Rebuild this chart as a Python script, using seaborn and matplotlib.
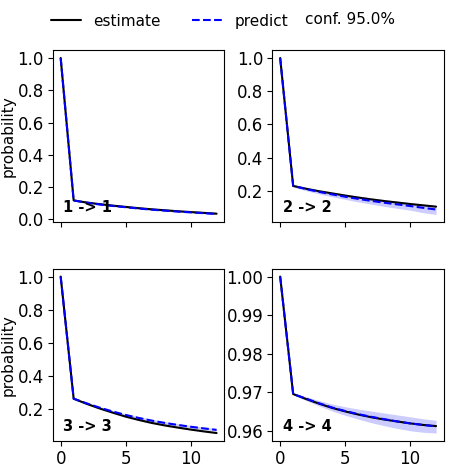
import matplotlib
matplotlib.use("Agg")
import matplotlib.pyplot as plt
import seaborn as sns
from matplotlib.lines import Line2D
from matplotlib.ticker import MultipleLocator

# DATA
lags = list(range(13))
titles = ["1 -> 1", "2 -> 2", "3 -> 3", "4 -> 4"]

est_11 = [1.0, 0.117, 0.104, 0.094, 0.085, 0.077, 0.069, 0.062, 0.056, 0.050, 0.045, 0.040, 0.035]
pred_11 = [1.0, 0.117, 0.103, 0.092, 0.083, 0.075, 0.067, 0.060, 0.054, 0.048, 0.043, 0.038, 0.033]
lo_11 = [1.0, 0.113, 0.099, 0.088, 0.079, 0.071, 0.063, 0.056, 0.050, 0.045, 0.040, 0.035, 0.030]
hi_11 = [1.0, 0.121, 0.107, 0.096, 0.087, 0.079, 0.071, 0.064, 0.058, 0.052, 0.046, 0.041, 0.036]

est_22 = [1.0, 0.229, 0.212, 0.197, 0.184, 0.171, 0.159, 0.148, 0.138, 0.129, 0.120, 0.112, 0.104]
pred_22 = [1.0, 0.229, 0.210, 0.193, 0.178, 0.164, 0.151, 0.139, 0.128, 0.118, 0.108, 0.097, 0.087]
lo_22 = [1.0, 0.222, 0.200, 0.181, 0.164, 0.148, 0.133, 0.119, 0.106, 0.094, 0.083, 0.068, 0.057]
hi_22 = [1.0, 0.234, 0.218, 0.204, 0.191, 0.179, 0.168, 0.157, 0.147, 0.138, 0.129, 0.120, 0.112]

est_33 = [1.0, 0.264, 0.233, 0.205, 0.180, 0.156, 0.136, 0.118, 0.103, 0.090, 0.078, 0.067, 0.057]
pred_33 = [1.0, 0.264, 0.236, 0.210, 0.187, 0.166, 0.148, 0.132, 0.118, 0.106, 0.095, 0.085, 0.076]
lo_33 = [1.0, 0.261, 0.231, 0.204, 0.180, 0.159, 0.140, 0.124, 0.110, 0.098, 0.087, 0.077, 0.068]
hi_33 = [1.0, 0.267, 0.241, 0.216, 0.194, 0.173, 0.156, 0.140, 0.126, 0.114, 0.103, 0.093, 0.084]

est_44 = [1.0, 0.9696, 0.9683, 0.9671, 0.9660, 0.9651, 0.9643, 0.9636, 0.9630, 0.9625, 0.9620, 0.9616, 0.9613]
pred_44 = [1.0, 0.9696, 0.9684, 0.9672, 0.9661, 0.9652, 0.9644, 0.9637, 0.9631, 0.9625, 0.9620, 0.9616, 0.9612]
lo_44 = [1.0, 0.9694, 0.9679, 0.9665, 0.9652, 0.9641, 0.9631, 0.9622, 0.9614, 0.9607, 0.9601, 0.9597, 0.9595]
hi_44 = [1.0, 0.9698, 0.9689, 0.9679, 0.9670, 0.9663, 0.9657, 0.9652, 0.9647, 0.9642, 0.9637, 0.9632, 0.9628]

panels = [
    (est_11, pred_11, lo_11, hi_11),
    (est_22, pred_22, lo_22, hi_22),
    (est_33, pred_33, lo_33, hi_33),
    (est_44, pred_44, lo_44, hi_44),
]
ystep = [0.2, 0.2, 0.2, 0.01]

# STYLE
sns.set_style("ticks")
plt.rcParams["font.family"] = ["DejaVu Sans"]
plt.rcParams["axes.edgecolor"] = "black"
plt.rcParams["xtick.color"] = "black"
plt.rcParams["ytick.color"] = "black"
plt.rcParams["text.color"] = "black"
plt.rcParams["axes.labelcolor"] = "black"

fig, axes = plt.subplots(2, 2, figsize=(4.52, 4.69), dpi=100, sharex=True)
fig.subplots_adjust(left=0.117, right=0.982, top=0.893, bottom=0.060,
                    wspace=0.28, hspace=0.27)

for i, ax in enumerate(axes.flat):
    est, pred, lo, hi = panels[i]
    ax.fill_between(lags, lo, hi, color="blue", alpha=0.2, linewidth=0)
    sns.lineplot(x=lags, y=est, ax=ax, color="black", linewidth=1.5)
    sns.lineplot(x=lags, y=pred, ax=ax, color="blue", linewidth=1.5, linestyle="--")
    ax.text(0.06, 0.04, titles[i], transform=ax.transAxes, fontsize=10.5,
            fontweight="bold", ha="left", va="bottom")
    ax.tick_params(labelsize=12, pad=3)
    ax.set_xticks([0, 5, 10])
    ax.yaxis.set_major_locator(MultipleLocator(ystep[i]))
    if i % 2 == 0:
        ax.set_ylabel("probability", fontsize=11, labelpad=1)

# LEGEND
handles = [
    Line2D([], [], color="black", linewidth=1.5),
    Line2D([], [], color="blue", linewidth=1.5, linestyle="--"),
]
fig.legend(handles, ["estimate", "predict"], loc="upper center", ncol=2,
           bbox_to_anchor=(0.375, 1.0), frameon=False, fontsize=11)
fig.text(305 / 452, 1 - 19 / 469, "conf. 95.0%", fontsize=11, ha="left", va="center")

fig.savefig("out.png", dpi=100)
